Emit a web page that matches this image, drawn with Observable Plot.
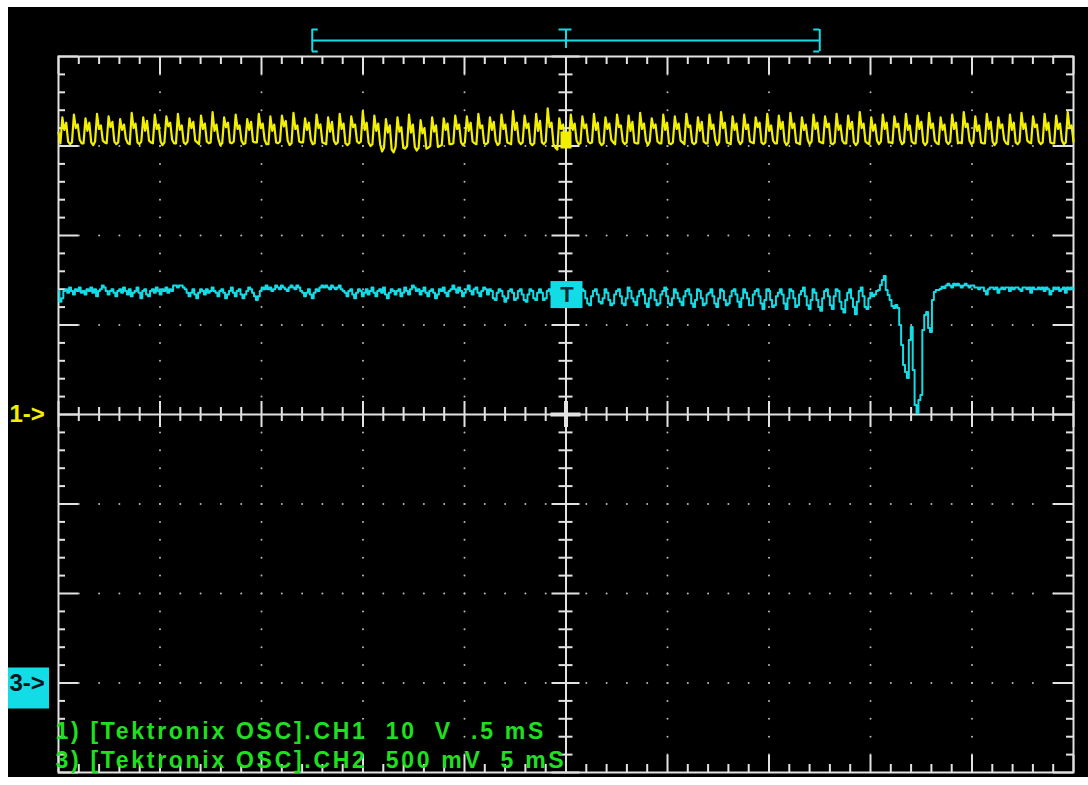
<!DOCTYPE html>
<html><head><meta charset="utf-8">
<script src="https://cdn.jsdelivr.net/npm/d3@7"></script>
<script src="https://cdn.jsdelivr.net/npm/@observablehq/plot@0.6"></script>
<style>
html,body{margin:0;padding:0;background:#fff;}
#chart{position:absolute;left:8px;top:7px;}
#chart text{white-space:pre;}
</style></head><body><div id="chart"></div>
<script>
// CH1 samples (volts), 10 V/div, reference marker "1->" at centre line
const ch1Volts = [
31.5,30.3,33.2,31.8,32.6,30.5, 30.2,30.4,33.5,32.0,32.4,30.7, 30.3,30.3,33.1,31.7,32.6,30.4, 30.1,30.5,33.6,31.9,32.3,30.6,
30.4,30.3,33.3,32.1,32.7,30.5, 30.2,30.4,33.0,31.8,32.4,30.8, 30.3,30.2,33.7,32.0,32.5,30.4, 30.2,30.5,33.2,31.7,32.8,30.6,
30.4,30.3,33.5,31.9,32.4,30.5, 30.1,30.4,33.3,32.2,32.6,30.7, 30.3,30.3,33.6,31.8,32.3,30.4, 30.2,30.5,33.1,32.0,32.7,30.6,
30.4,30.2,33.4,31.9,32.5,30.5, 30.3,30.4,33.8,31.7,32.4,30.8, 30.1,30.3,33.2,32.1,32.6,30.4, 30.3,30.5,33.5,31.9,32.3,30.6,
30.2,30.3,33.0,31.8,32.7,30.5, 30.4,30.4,33.6,32.0,32.5,30.7, 30.2,30.2,33.3,31.7,32.4,30.4, 30.3,30.5,33.4,32.2,32.8,30.6,
30.1,30.3,33.7,31.9,32.3,30.5, 30.4,30.4,33.1,31.8,32.6,30.7, 30.2,30.3,33.5,32.0,32.4,30.4, 30.3,30.2,33.2,31.6,32.7,30.6,
30.2,30.4,33.6,31.9,32.5,30.3, 30.1,30.3,33.3,32.1,32.4,30.5, 30.3,30.5,33.9,31.8,32.6,30.4, 30.0,30.2,33.4,31.7,32.5,30.2,
29.4,29.8,33.0,31.5,32.3,29.6, 29.3,29.9,33.2,31.6,32.1,29.8, 29.7,30.0,33.5,31.5,32.4,29.9, 29.5,29.8,32.9,31.4,32.0,29.7,
29.8,30.0,33.2,31.6,32.3,29.9, 30.0,30.1,33.1,31.8,32.5,30.2, 30.2,30.3,33.4,31.9,32.4,30.4, 30.1,30.4,33.3,31.7,32.6,30.5,
30.3,30.2,33.6,32.0,32.3,30.3, 30.2,30.4,33.2,31.8,32.7,30.6, 30.1,30.3,33.5,31.9,32.4,30.4, 30.3,30.2,33.9,31.8,32.6,30.5,
30.2,30.4,33.4,32.0,32.5,30.3, 30.1,30.3,33.6,31.7,32.8,30.4, 30.2,30.5,34.2,32.1,32.6,30.2, 29.8,29.6,33.1,31.9,32.4,30.4,
30.3,30.4,33.5,31.8,32.5,30.6, 30.2,30.3,33.3,32.0,32.4,30.5, 30.3,30.4,33.6,31.8,32.6,30.4, 30.1,30.3,33.2,31.9,32.5,30.7,
30.4,30.2,33.5,32.1,32.3,30.5, 30.2,30.4,33.4,31.7,32.7,30.4, 30.3,30.3,33.7,31.9,32.5,30.6, 30.1,30.5,33.1,32.0,32.4,30.5,
30.3,30.3,33.5,31.8,32.6,30.3, 30.2,30.4,33.3,31.9,32.5,30.6, 30.4,30.2,33.6,32.1,32.3,30.4, 30.2,30.4,33.2,31.7,32.7,30.5,
30.3,30.3,33.5,31.9,32.4,30.7, 30.1,30.4,33.8,32.0,32.6,30.4, 30.3,30.2,33.3,31.8,32.5,30.6, 30.2,30.5,33.5,31.9,32.4,30.5,
30.4,30.3,33.2,32.1,32.6,30.4, 30.2,30.4,33.6,31.7,32.3,30.6, 30.3,30.3,33.4,31.9,32.7,30.5, 30.1,30.4,33.7,32.0,32.5,30.4,
30.3,30.2,33.2,31.8,32.4,30.7, 30.2,30.5,33.5,31.9,32.6,30.5, 30.4,30.3,33.3,32.1,32.5,30.3, 30.2,30.4,33.6,31.8,32.3,30.6,
30.3,30.3,33.4,31.9,32.7,30.4, 30.1,30.4,33.8,32.0,32.5,30.5, 30.3,30.2,33.2,31.7,32.4,30.6, 30.2,30.5,33.5,31.9,32.6,30.4,
30.4,30.3,33.3,32.1,32.5,30.7, 30.2,30.4,33.6,31.8,32.3,30.5, 30.3,30.3,33.4,31.9,32.7,30.4, 30.1,30.4,33.7,32.0,32.5,30.6,
30.3,30.2,33.2,31.8,32.4,30.5, 30.2,30.5,33.5,31.9,32.6,30.3, 30.4,30.3,33.8,32.1,32.5,30.6, 30.2,30.4,33.3,31.7,32.3,30.4,
30.3,30.3,33.6,31.9,32.7,30.5, 30.1,30.4,33.2,32.0,32.4,30.7, 30.3,30.2,33.5,31.8,32.6,30.4, 30.2,30.5,33.7,31.9,32.5,30.6,
30.4,30.3,33.3,32.1,32.4,30.5, 30.2,30.4,33.6,31.8,32.6,30.4, 30.3,30.3,33.4,31.9,32.5,30.6, 30.2,30.4,33.8,32.0,32.3,30.5
];
// CH2 samples (volts), 500 mV/div, reference marker "3->" three divisions below centre
const ch2Volts = [
2.19,2.13,2.15,2.19,2.20,2.18,2.21,2.19,2.17,2.20,2.19,2.21,2.18,2.19,2.17,2.20,
2.19,2.21,2.18,2.20,2.16,2.19,2.20,2.22,2.21,2.19,2.17,2.19,2.20,2.18,2.16,2.19,
2.20,2.18,2.21,2.19,2.17,2.20,2.16,2.18,2.19,2.21,2.18,2.15,2.19,2.20,2.17,2.16,
2.19,2.20,2.18,2.21,2.19,2.17,2.20,2.19,2.21,2.18,2.20,2.19,2.22,2.22,2.21,2.22,
2.22,2.21,2.20,2.18,2.16,2.18,2.20,2.17,2.15,2.18,2.20,2.19,2.17,2.20,2.18,2.19,
2.21,2.19,2.18,2.16,2.19,2.20,2.18,2.15,2.17,2.19,2.21,2.18,2.16,2.19,2.20,2.17,
2.15,2.17,2.19,2.21,2.20,2.18,2.16,2.14,2.16,2.19,2.21,2.20,2.22,2.20,2.21,2.19,
2.20,2.22,2.21,2.20,2.22,2.21,2.20,2.19,2.21,2.22,2.21,2.20,2.22,2.21,2.19,2.18,
2.16,2.18,2.20,2.17,2.15,2.18,2.20,2.19,2.21,2.22,2.21,2.22,2.21,2.20,2.22,2.21,
2.20,2.21,2.22,2.20,2.19,2.18,2.16,2.19,2.20,2.17,2.15,2.18,2.20,2.19,2.16,2.18,
2.20,2.17,2.19,2.21,2.18,2.16,2.19,2.20,2.18,2.21,2.17,2.15,2.18,2.20,2.19,2.17,
2.19,2.20,2.16,2.18,2.21,2.19,2.17,2.20,2.22,2.21,2.19,2.20,2.17,2.19,2.21,2.18,
2.16,2.19,2.20,2.18,2.15,2.17,2.20,2.19,2.21,2.18,2.16,2.19,2.20,2.22,2.20,2.18,
2.21,2.19,2.16,2.18,2.20,2.22,2.19,2.17,2.20,2.21,2.18,2.16,2.19,2.21,2.20,2.17,
2.20,2.19,2.15,2.14,2.18,2.20,2.19,2.16,2.13,2.15,2.19,2.20,2.18,2.14,2.15,2.19,
2.20,2.17,2.14,2.13,2.17,2.20,2.19,2.15,2.14,2.18,2.20,2.18,2.14,2.15,2.19,2.20,
2.17,2.18,2.18,2.17,2.17,2.17,2.17,2.17,2.17,2.17,2.17,2.17,2.18,2.19,2.20,2.19,
2.20,2.19,2.15,2.12,2.11,2.16, 2.19,2.20,2.17,2.13,2.12,2.15, 2.20,2.18,2.14,2.11,2.12,2.17,
2.19,2.20,2.16,2.12,2.11,2.15, 2.21,2.19,2.15,2.13,2.11,2.16, 2.19,2.20,2.17,2.12,2.10,2.15,
2.20,2.19,2.14,2.11,2.12,2.17, 2.19,2.21,2.16,2.12,2.11,2.15, 2.20,2.18,2.15,2.13,2.11,2.16,
2.19,2.20,2.17,2.12,2.10,2.14, 2.20,2.19,2.15,2.11,2.12,2.17, 2.18,2.20,2.16,2.12,2.10,2.15,
2.20,2.19,2.14,2.11,2.12,2.16, 2.19,2.20,2.17,2.13,2.10,2.15, 2.20,2.18,2.15,2.11,2.11,2.17,
2.19,2.20,2.16,2.12,2.09,2.14, 2.20,2.19,2.14,2.10,2.11,2.16, 2.18,2.20,2.17,2.12,2.09,2.15,
2.20,2.19,2.15,2.10,2.11,2.17, 2.19,2.21,2.16,2.11,2.09,2.14, 2.20,2.18,2.14,2.10,2.08,2.15,
2.19,2.20,2.16,2.11,2.09,2.16, 2.20,2.19,2.13,2.09,2.07,2.14, 2.18,2.20,2.15,2.10,2.06,2.13,
2.19,2.21,2.16,2.10,2.09,2.15, 2.18,2.16,2.17,2.19,
2.196,2.224,2.252,2.274,2.196,2.168,2.140,2.106,2.095,2.112,2.095,2.000,1.888,1.777,1.738,1.704,
1.916,1.989,1.749,1.553,1.508,1.581,1.609,1.972,2.056,2.073,1.983,1.961,2.140,2.185,2.196,2.196,
2.201,2.213,2.207,
2.22,2.23,2.22,2.21,2.23,2.22,2.23,2.22,2.21,2.22,2.23,2.22,2.21,2.22,2.22,2.21,
2.21,2.20,2.21,2.21,2.19,2.17,2.20,2.21,2.21,2.20,2.21,2.18,2.20,2.21,2.20,2.21,
2.21,2.19,2.21,2.20,2.21,2.21,2.20,2.19,2.21,2.21,2.20,2.21,2.18,2.21,2.20,2.20,
2.21,2.20,2.21,2.19,2.21,2.20,2.17,2.19,2.21,2.20,2.21,2.19,2.20,2.21,2.18,2.21,2.20,2.21,2.20
];
// Timebase: 5 ms/div, 10 divisions, trigger at centre
const timeStart = -25, timeEnd = 25;
const ch1VoltsPerDiv = 10, ch1RefDiv = 0;
const ch2VoltsPerDiv = 0.5, ch2RefDiv = -3;
const windowStart = -12.5, windowEnd = 12.5, triggerTime = 0, triggerLevel = 2.17;
const channelMarkers = ["1->", "3->"];
const osdLines = ["1) [Tektronix OSC].CH1  10  V  .5 mS", "3) [Tektronix OSC].CH2  500 mV  5 mS"];

const W = 1080, H = 770, mL = 50, mR = 15, mT = 49, mB = 5;
const pxX = (W - mL - mR) / (timeEnd - timeStart);
const pxY = (H - mT - mB) / 8;
const X = p => p / pxX, Y = p => p / pxY;

const YEL = "#f2f000", CYA = "#12dde6", GRID = "#e2e2e2", DOT = "#b8b8b8", GRN = "#1fe01f";

const dt = (timeEnd - timeStart) / (ch1Volts.length - 1);
const ch1 = ch1Volts.map((v, i) => ({t: timeStart + i * dt, y: v / ch1VoltsPerDiv + ch1RefDiv}));
const ch2 = ch2Volts.map((v, i) => ({t: timeStart + i * dt, y: v / ch2VoltsPerDiv + ch2RefDiv}));

const near = (a, b) => Math.abs(a - b) < 1e-6;
const xMinor = d3.range(0, 51).map(k => timeStart + k);
const yMinor = d3.range(0, 41).map(k => -4 + k * 0.2);
const isMajX = t => near(((t - timeStart) / 5) % 1, 0) || near(((t - timeStart) / 5) % 1, 1);
const isMajY = y => near(Math.round(y), y);
const xMajInner = xMinor.filter(t => isMajX(t) && !near(t, timeStart) && !near(t, timeEnd) && !near(t, 0));
const yMajInner = yMinor.filter(y => isMajY(y) && Math.abs(y) < 3.99 && !near(y, 0));
const dots = [];
for (const t of xMajInner) for (const y of yMinor) if (Math.abs(y) < 3.99) dots.push({t, y});
for (const y of yMajInner) for (const t of xMinor) if (t > timeStart + 0.01 && t < timeEnd - 0.01) dots.push({t, y});

const trigY = triggerLevel / ch2VoltsPerDiv + ch2RefDiv;

const chart = Plot.plot({
  width: W, height: H, marginLeft: mL, marginRight: mR, marginTop: mT, marginBottom: mB,
  style: {background: "#000", fontFamily: "'Liberation Sans', Arial, sans-serif", overflow: "visible"},
  x: {domain: [timeStart, timeEnd], axis: null},
  y: {domain: [-4, 4], axis: null},
  marks: [
    Plot.dot(dots, {x: "t", y: "y", r: 1, fill: DOT}),
    // centre lines
    Plot.ruleY([0], {x1: timeStart, x2: timeEnd, stroke: GRID, strokeWidth: 2}),
    Plot.ruleX([0], {y1: -4, y2: 4, stroke: GRID, strokeWidth: 2}),
    Plot.ruleX(xMinor, {x: d => d, y1: d => -Y(isMajX(d) ? 13 : 7), y2: d => Y(isMajX(d) ? 13 : 7), stroke: GRID, strokeWidth: 2}),
    Plot.ruleY(yMinor, {y: d => d, x1: d => -X(isMajY(d) ? 14 : 7), x2: d => X(isMajY(d) ? 14 : 7), stroke: GRID, strokeWidth: 2}),
    Plot.ruleY([0], {x1: -X(15), x2: X(15), stroke: GRID, strokeWidth: 4}),
    Plot.ruleX([0], {y1: -Y(13), y2: Y(13), stroke: GRID, strokeWidth: 4}),
    // edge ticks
    Plot.ruleX(xMinor, {x: d => d, y1: 4, y2: d => 4 - Y(isMajX(d) ? 18 : 8), stroke: GRID, strokeWidth: 2}),
    Plot.ruleX(xMinor, {x: d => d, y1: -4, y2: d => -4 + Y(isMajX(d) ? 17 : 8), stroke: GRID, strokeWidth: 2}),
    Plot.ruleY(yMinor, {y: d => d, x1: timeStart, x2: d => timeStart + X(isMajY(d) ? 20 : 7), stroke: GRID, strokeWidth: 2}),
    Plot.ruleY(yMinor, {y: d => d, x1: timeEnd, x2: d => timeEnd - X(isMajY(d) ? 20 : 7), stroke: GRID, strokeWidth: 2}),
    Plot.frame({stroke: GRID, strokeWidth: 2}),
    // record window bracket with trigger position
    Plot.ruleY([4 + Y(16)], {x1: windowStart, x2: windowEnd, stroke: CYA, strokeWidth: 2}),
    Plot.ruleX([windowStart, windowEnd], {x: d => d, y1: 4 + Y(5), y2: 4 + Y(27), stroke: CYA, strokeWidth: 2}),
    Plot.ruleY([4 + Y(5), 4 + Y(27)], {y: d => d, x1: windowStart, x2: windowStart + X(6), stroke: CYA, strokeWidth: 2}),
    Plot.ruleY([4 + Y(5), 4 + Y(27)], {y: d => d, x1: windowEnd, x2: windowEnd - X(6), stroke: CYA, strokeWidth: 2}),
    Plot.ruleX([triggerTime], {y1: 4 + Y(8), y2: 4 + Y(27), stroke: CYA, strokeWidth: 2}),
    Plot.ruleY([4 + Y(27)], {x1: triggerTime - X(7), x2: triggerTime + X(6), stroke: CYA, strokeWidth: 2}),
    // traces
    Plot.line(ch1, {x: "t", y: "y", stroke: YEL, strokeWidth: 2.2, curve: "linear"}),
    Plot.rect([triggerTime], {x1: triggerTime - X(5), x2: triggerTime + X(6), y1: 3 - Y(3), y2: 3 + Y(14), fill: YEL}),
    Plot.line(ch2, {x: "t", y: "y", stroke: CYA, strokeWidth: 2, curve: "step"}),
    Plot.rect([triggerTime], {x1: triggerTime - X(15), x2: triggerTime + X(17), y1: trigY - Y(14), y2: trigY + Y(13), fill: CYA}),
    Plot.text(["T"], {x: triggerTime, y: trigY, dx: 1, fill: "#062a30", fontSize: 22, fontWeight: "bold"}),
    // channel reference markers
    Plot.text([channelMarkers[0]], {x: timeStart, y: ch1RefDiv, dx: -49, textAnchor: "start", fill: YEL, fontSize: 24, fontWeight: "bold"}),
    Plot.rect([0], {x1: timeStart - X(50), x2: timeStart - X(9), y1: ch2RefDiv - Y(26), y2: ch2RefDiv + Y(15), fill: CYA}),
    Plot.text([channelMarkers[1]], {x: timeStart, y: ch2RefDiv, dx: -49, textAnchor: "start", fill: "#04141a", fontSize: 24, fontWeight: "bold"}),
    // on-screen settings readout
    Plot.text(osdLines, {x: () => timeStart, y: (d, i) => -4 + Y(i === 0 ? 41 : 12), dx: -3, textAnchor: "start", fill: GRN, fontSize: 23, fontWeight: "bold"})
  ]
});
d3.select(chart).selectAll("text")
  .filter(function() { return this.textContent.includes("Tektronix"); })
  .style("letter-spacing", "2.7px");
document.getElementById("chart").append(chart);
</script></body></html>
